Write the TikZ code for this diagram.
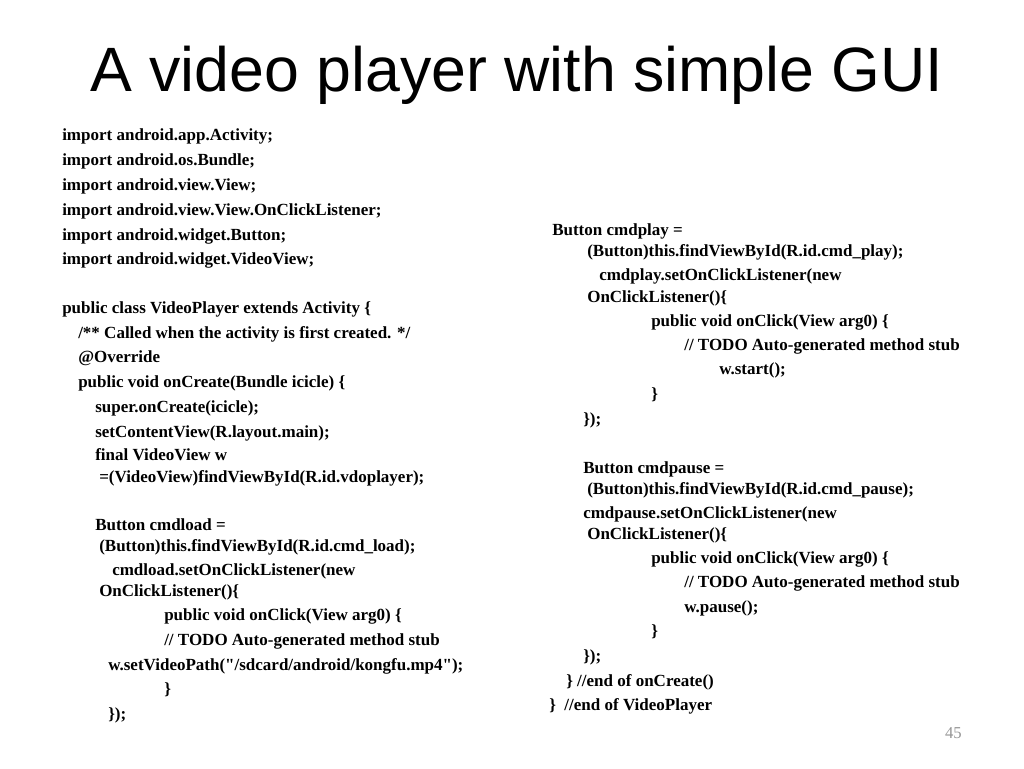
\documentclass[tikz,border=0pt]{standalone}
\usepackage{fontspec}
\setmainfont{Liberation Serif}
\newfontfamily\titlefont{Liberation Sans}
\definecolor{pgnum}{RGB}{150,150,150}
\begin{document}
\begin{tikzpicture}[x=0.75pt,y=-0.75pt,
  code/.style={anchor=base west,inner sep=0pt,font=\fontsize{12.75pt}{14pt}\selectfont\bfseries},
  titlestyle/.style={anchor=base west,inner sep=0pt,font=\titlefont\fontsize{47pt}{50pt}\selectfont},
  pagenum/.style={anchor=base east,inner sep=0pt,text=pgnum,font=\fontsize{12.5pt}{14pt}\selectfont}]
\useasboundingbox[fill=white] (0,0) rectangle (1024,768);
\node[titlestyle] (title) at (90,91) {A video player with simple GUI};
% left column
\node[code] (l1) at (62,140.5) {import android.app.Activity;};
\node[code] (l2) at (62,165.5) {import android.os.Bundle;};
\node[code] (l3) at (62,190.5) {import android.view.View;};
\node[code] (l4) at (62,215.5) {import android.view.View.OnClickListener;};
\node[code] (l5) at (62,240.5) {import android.widget.Button;};
\node[code] (l6) at (62,264.5) {import android.widget.VideoView;};
\node[code] (l7) at (62,313.5) {public class VideoPlayer extends Activity \{};
\node[code] (l8) at (78,338.5) {/** Called when the activity is first created. */};
\node[code] (l9) at (78,362.5) {@Override};
\node[code] (l10) at (78,387.5) {public void onCreate(Bundle icicle) \{};
\node[code] (l11) at (95,412.5) {super.onCreate(icicle);};
\node[code] (l12) at (95,437.5) {setContentView(R.layout.main);};
\node[code] (l13) at (95,460.5) {final VideoView w};
\node[code] (l14) at (99,482.5) {=(VideoView)findViewById(R.id.vdoplayer);};
\node[code] (l15) at (95,530.5) {Button cmdload =};
\node[code] (l16) at (99,551.5) {(Button)this.findViewById(R.id.cmd\_load);};
\node[code] (l17) at (112,575.5) {cmdload.setOnClickListener(new};
\node[code] (l18) at (99,596.5) {OnClickListener()\{};
\node[code] (l19) at (164,620.5) {public void onClick(View arg0) \{};
\node[code] (l20) at (164,645.5) {// TODO Auto-generated method stub};
\node[code] (l21) at (108,670.5) {w.setVideoPath(\textquotedbl/sdcard/android/kongfu.mp4\textquotedbl);};
\node[code] (l22) at (164,694.5) {\}};
\node[code] (l23) at (108,719.5) {\});};
% right column
\node[code] (r1) at (552,235.5) {Button cmdplay =};
\node[code] (r2) at (587,256.5) {(Button)this.findViewById(R.id.cmd\_play);};
\node[code] (r3) at (599,280.5) {cmdplay.setOnClickListener(new};
\node[code] (r4) at (587,302.5) {OnClickListener()\{};
\node[code] (r5) at (651,326.5) {public void onClick(View arg0) \{};
\node[code] (r6) at (684,350.5) {// TODO Auto-generated method stub};
\node[code] (r7) at (719,374.5) {w.start();};
\node[code] (r8) at (651,399.5) {\}};
\node[code] (r9) at (583,424.5) {\});};
\node[code] (r10) at (583,473.5) {Button cmdpause =};
\node[code] (r11) at (587,494.5) {(Button)this.findViewById(R.id.cmd\_pause);};
\node[code] (r12) at (583,518.5) {cmdpause.setOnClickListener(new};
\node[code] (r13) at (587,539.5) {OnClickListener()\{};
\node[code] (r14) at (651,563.5) {public void onClick(View arg0) \{};
\node[code] (r15) at (684,587.5) {// TODO Auto-generated method stub};
\node[code] (r16) at (684,612.5) {w.pause();};
\node[code] (r17) at (651,636.5) {\}};
\node[code] (r18) at (583,661.5) {\});};
\node[code] (r19) at (566,686.5) {\} //end of onCreate()};
\node[code] (r20) at (549,710.5) {\}\ \ //end of VideoPlayer};
\node[pagenum] (pg) at (962,738) {45};
\end{tikzpicture}
\end{document}
